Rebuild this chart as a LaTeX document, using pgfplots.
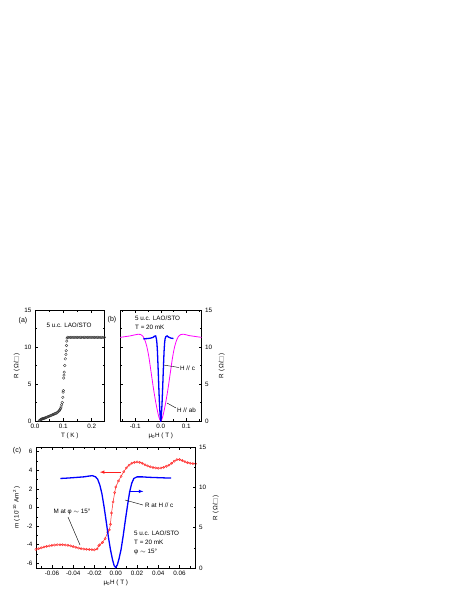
\documentclass[border=0pt]{standalone}
\usepackage{pgfplots}
\pgfplotsset{compat=1.18}
\usepackage{fontspec}
\setmainfont{Liberation Sans}
\newfontfamily\dejavu{DejaVu Sans}
\newcommand{\sq}{{\dejavu\color{black!60}□}}
\definecolor{mred}{RGB}{255,30,30}
\definecolor{mblue}{RGB}{0,0,255}
\definecolor{mmag}{RGB}{255,0,255}
\pgfplotsset{
 every axis/.append style={
  scale only axis, anchor=north west,
  font=\fontsize{6.3}{7.3}\selectfont,
  tick align=inside,
  scaled x ticks=false, scaled y ticks=false,
  /pgf/number format/assume math mode=true,
  axis line style={line width=0.6pt},
  major tick length=2.8pt, minor tick length=1.6pt,
  every tick/.style={black, line width=0.5pt},
  tick label style={font=\fontsize{6.3}{7.3}\selectfont},
  label style={font=\fontsize{6.3}{7.3}\selectfont},
  xlabel style={yshift=3pt},
 },
 fx1/.style={xticklabel style={/pgf/number format/fixed, /pgf/number format/fixed zerofill, /pgf/number format/precision=1}},
 fx2/.style={xticklabel style={/pgf/number format/fixed, /pgf/number format/fixed zerofill, /pgf/number format/precision=2}},
}
\begin{document}
\begin{tikzpicture}
\useasboundingbox (0pt,0pt) rectangle (463pt,-599pt);

% ---------------- (a)
\begin{axis}[at={(35pt,-310pt)}, width=69.5pt, height=111pt,
  xmin=0, xmax=0.245, ymin=0, ymax=15,
  xtick={0,0.1,0.2}, minor xtick={0.05,0.15},
  ytick={0,5,10,15}, minor ytick={2.5,7.5,12.5},
  fx1,
  xlabel={T ( K )}, ylabel={R (\,Ω/\sq\,)},
  ylabel style={yshift=-2pt}]
\addplot[only marks, mark=o, mark size=1.3pt, black!80, mark options={line width=0.35pt}] coordinates {
(0.015,0.05)(0.017,0.1)(0.019,0.15)(0.021,0.2)(0.023,0.25)(0.025,0.28)(0.027,0.3)(0.029,0.33)
(0.031,0.36)(0.033,0.38)(0.035,0.4)(0.038,0.45)(0.041,0.5)(0.044,0.55)(0.047,0.6)(0.050,0.65)
(0.053,0.7)(0.056,0.75)(0.059,0.8)(0.062,0.85)(0.065,0.9)(0.068,0.95)(0.071,1.0)(0.074,1.05)
(0.077,1.1)(0.080,1.2)(0.083,1.3)(0.086,1.4)(0.088,1.55)(0.090,1.7)(0.092,1.9)(0.094,2.2)
(0.096,2.5)(0.098,3.2)(0.099,3.9)(0.100,4.1)(0.101,5.8)(0.102,6.2)(0.103,6.6)(0.105,7.5)
(0.107,8.4)(0.109,9.0)(0.110,9.5)(0.111,10.2)(0.112,10.8)(0.113,11.2)
(0.115,11.3)(0.12,11.3)(0.125,11.3)(0.13,11.3)(0.135,11.3)(0.14,11.3)(0.145,11.3)(0.15,11.3)
(0.155,11.3)(0.16,11.3)(0.165,11.3)(0.17,11.3)(0.175,11.3)(0.18,11.3)(0.185,11.3)(0.19,11.3)
(0.195,11.3)(0.2,11.3)(0.205,11.3)(0.21,11.3)(0.215,11.3)(0.22,11.3)(0.225,11.3)(0.23,11.3)
(0.235,11.3)(0.24,11.3)(0.245,11.3)};
\end{axis}

% ---------------- (b)
\begin{axis}[at={(120pt,-310pt)}, width=81.5pt, height=111pt,
  xmin=-0.16, xmax=0.16, ymin=0, ymax=15,
  xtick={-0.1,0,0.1}, minor xtick={-0.15,-0.05,0.05,0.15},
  ytick={0,5,10,15}, minor ytick={2.5,7.5,12.5},
  yticklabel pos=right,
  fx1,
  xlabel={µ\textsubscript{0}H ( T )}, ylabel={R (\,Ω/\sq\,)}]
\addplot[mmag, line width=0.8pt, smooth] coordinates {
(-0.16,11.30)(-0.15,11.35)(-0.14,11.40)(-0.13,11.45)(-0.12,11.50)(-0.11,11.58)(-0.10,11.65)
(-0.09,11.72)(-0.08,11.70)(-0.075,11.6)(-0.07,11.45)(-0.065,11.15)(-0.06,10.7)(-0.055,10.1)
(-0.05,9.3)(-0.045,8.3)(-0.04,7.1)(-0.035,5.9)(-0.03,4.7)(-0.025,3.6)(-0.02,2.6)(-0.015,1.7)
(-0.01,0.9)(-0.005,0.3)(0,0.0)(0.005,0.3)(0.01,0.9)(0.015,1.7)(0.02,2.6)(0.025,3.6)(0.03,4.7)
(0.035,5.9)(0.04,7.1)(0.045,8.3)(0.05,9.3)(0.055,10.1)(0.06,10.7)(0.065,11.15)(0.07,11.45)
(0.075,11.6)(0.08,11.7)(0.09,11.72)(0.10,11.65)(0.11,11.55)(0.12,11.50)(0.13,11.45)
(0.14,11.40)(0.15,11.35)(0.16,11.30)};
\addplot[mblue, line width=1.3pt] coordinates {
(-0.068,11.10)(-0.06,11.12)(-0.05,11.15)(-0.04,11.20)(-0.03,11.30)(-0.025,11.45)(-0.02,11.5)
(-0.017,11.1)(-0.015,10.5)(-0.013,9.4)(-0.011,7.7)(-0.009,5.9)(-0.007,4.0)(-0.005,2.3)
(-0.003,1.1)(-0.0015,0.4)(0,0.05)(0.0015,0.4)(0.003,1.1)(0.005,2.3)(0.007,4.0)(0.009,5.9)
(0.011,7.7)(0.013,9.4)(0.015,10.5)(0.017,11.1)(0.02,11.4)(0.025,11.5)(0.03,11.35)(0.04,11.2)
(0.05,11.15)};
\end{axis}

% ---------------- (c)
\begin{axis}[at={(36pt,-447pt)}, width=159.5pt, height=121pt,
  xmin=-0.075, xmax=0.075, ymin=-6.5, ymax=6.5,
  axis y line*=left,
  xtick={-0.06,-0.04,-0.02,0,0.02,0.04,0.06},
  minor xtick={-0.07,-0.05,-0.03,-0.01,0.01,0.03,0.05,0.07},
  ytick={-6,-4,-2,0,2,4,6}, minor ytick={-5,-3,-1,1,3,5},
  fx2,
  xlabel={µ\textsubscript{0}H ( T )},
  ylabel={m ( 10\textsuperscript{-10} Am\textsuperscript{2} )}]
\addplot[mred, line width=0.5pt, mark=o, mark size=1.15pt, mark options={line width=0.35pt}] coordinates {
(-0.0750,-4.50)(-0.0725,-4.42)(-0.0700,-4.33)(-0.0675,-4.25)(-0.0650,-4.18)(-0.0625,-4.12)
(-0.0600,-4.07)(-0.0575,-4.03)(-0.0550,-4.01)(-0.0525,-4.00)(-0.0500,-4.00)(-0.0475,-4.02)
(-0.0450,-4.06)(-0.0425,-4.12)(-0.0400,-4.20)(-0.0375,-4.28)(-0.0350,-4.36)(-0.0325,-4.42)
(-0.0300,-4.46)(-0.0275,-4.49)(-0.0250,-4.51)(-0.0225,-4.53)(-0.0200,-4.55)(-0.0175,-4.45)
(-0.0160,-4.10)(-0.0150,-4.00)(-0.0125,-3.75)(-0.0100,-3.35)(-0.0075,-2.65)(-0.0060,-2.40)
(-0.0050,-1.80)(-0.0040,-0.60)(-0.0025,0.60)(-0.0010,1.60)(0.0000,2.20)(0.0025,2.85)
(0.0050,3.35)(0.0075,3.85)(0.0100,4.25)(0.0125,4.55)(0.0150,4.75)(0.0175,4.85)(0.0200,4.90)
(0.0225,4.85)(0.0250,4.75)(0.0275,4.60)(0.0300,4.48)(0.0325,4.38)(0.0350,4.30)(0.0375,4.25)
(0.0400,4.22)(0.0425,4.25)(0.0450,4.32)(0.0475,4.42)(0.0500,4.55)(0.0525,4.75)(0.0550,4.98)
(0.0575,5.15)(0.0600,5.15)(0.0625,5.05)(0.0650,4.92)(0.0675,4.82)(0.0700,4.75)(0.0725,4.72)
(0.0750,4.70)};
\draw[mred, line width=0.6pt, -latex] (axis cs:0.0047,3.8) -- (axis cs:-0.015,3.8);
\end{axis}
\begin{axis}[at={(36pt,-447pt)}, width=159.5pt, height=121pt,
  xmin=-0.075, xmax=0.075, ymin=0, ymax=15,
  axis y line*=right, axis x line=none,
  ytick={0,5,10,15}, minor ytick={2.5,7.5,12.5},
  ylabel={R (\,Ω/\sq\,)}]
\addplot[mblue, line width=1.3pt] coordinates {
(-0.052,11.1)(-0.045,11.15)(-0.04,11.2)(-0.035,11.25)(-0.03,11.3)(-0.025,11.4)(-0.022,11.45)
(-0.019,11.3)(-0.017,11.0)(-0.015,10.3)(-0.013,9.2)(-0.011,7.6)(-0.009,5.8)(-0.007,3.9)
(-0.005,2.3)(-0.003,1.0)(-0.0015,0.3)(0,0.05)(0.0015,0.4)(0.003,1.1)(0.005,2.3)(0.007,4.0)
(0.009,5.9)(0.011,7.7)(0.013,9.4)(0.015,10.5)(0.017,11.1)(0.02,11.3)(0.025,11.3)(0.03,11.25)
(0.04,11.2)(0.05,11.15)(0.052,11.15)};
\draw[mblue, line width=0.6pt, -latex] (axis cs:0.012,9.5) -- (axis cs:0.026,9.5);
\end{axis}

% ---------------- annotations
\begin{scope}[font=\fontsize{6.3}{7.3}\selectfont, inner sep=0pt]
\node at (23pt,-321pt) {\fontsize{7}{8}\selectfont(a)};
\node at (69pt,-325pt) {5 u.c. LAO/STO};
\node at (112pt,-320pt) {\fontsize{7}{8}\selectfont(b)};
\node[anchor=west] at (135pt,-318pt) {5 u.c. LAO/STO};
\node[anchor=west] at (135pt,-327pt) {T = 20 mK};
\draw[line width=0.4pt] (163.5pt,-365pt) -- (179pt,-367.5pt);
\node[anchor=west] at (180pt,-368pt) {H // c};
\draw[line width=0.4pt] (167pt,-403pt) -- (176pt,-408pt);
\node[anchor=west] at (177pt,-410pt) {H // ab};
\node at (17pt,-451pt) {\fontsize{7}{8}\selectfont(c)};
\node at (72pt,-512pt) {M at φ $\sim$ 15°};
\draw[line width=0.4pt] (68pt,-517pt) -- (80pt,-545pt);
\draw[line width=0.4pt] (125pt,-500pt) -- (143pt,-505pt);
\node[anchor=west] at (145pt,-505pt) {R at H // c};
\node[anchor=west] at (134pt,-533pt) {5 u.c. LAO/STO};
\node[anchor=west] at (134pt,-542.5pt) {T = 20 mK};
\node[anchor=west] at (134pt,-552pt) {φ $\sim$ 15°};
\end{scope}
\end{tikzpicture}
\end{document}
